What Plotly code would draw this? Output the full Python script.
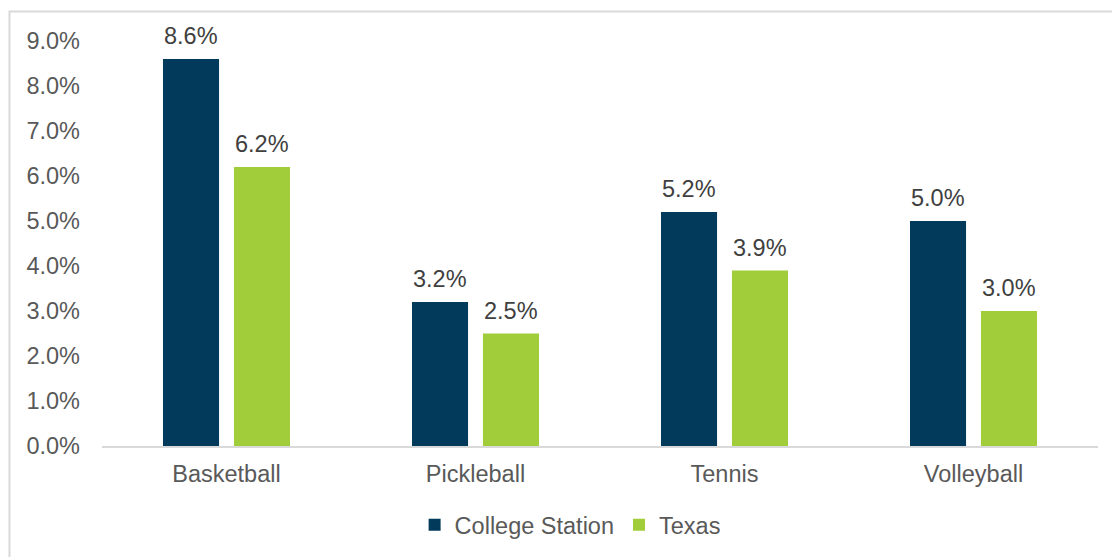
import plotly.graph_objects as go

categories = ["Basketball", "Pickleball", "Tennis", "Volleyball"]
college_station = [8.6, 3.2, 5.2, 5.0]
texas = [6.2, 2.5, 3.9, 3.0]
y_ticks = [0, 1, 2, 3, 4, 5, 6, 7, 8, 9]
y_tick_labels = [f"{v:.1f}%" for v in y_ticks]

NAVY = "#023A5B"
GREEN = "#A2CD3A"
TEXT = "#595959"
LABEL = "#404040"
FONT = "Liberation Sans, Arial, sans-serif"
FS = 23.5

fig = go.Figure()
fig.add_trace(go.Bar(
    name="College Station", x=categories, y=college_station,
    marker=dict(color=NAVY, line=dict(width=0)),
))
fig.add_trace(go.Bar(
    name="Texas", x=categories, y=texas,
    marker=dict(color=GREEN, line=dict(width=0)),
))

annotations = []
for series, shift in ((college_station, -35.5), (texas, 35.5)):
    for cat, val in zip(categories, series):
        annotations.append(dict(
            x=cat, y=val, xref="x", yref="y", text=f"{val:.1f}%",
            showarrow=False, xshift=shift, yshift=23, yanchor="middle",
            font=dict(size=FS, color=LABEL, family=FONT),
        ))

fig.update_layout(
    width=1112, height=557,
    margin=dict(l=102, r=14, t=41, b=111, autoexpand=False),
    paper_bgcolor="white", plot_bgcolor="white",
    barmode="group", bargap=0.43, bargroupgap=0.21,
    font=dict(family=FONT, size=FS, color=TEXT),
    showlegend=True,
    legend=dict(orientation="h", x=0.47, xanchor="center",
                yref="container", y=0.097, yanchor="top",
                font=dict(size=FS, color=TEXT), traceorder="normal"),
    xaxis=dict(showline=True, linecolor="#D9D9D9", linewidth=1.5, ticks="",
               tickfont=dict(size=FS, color=TEXT), showgrid=False, automargin=False,
               ticklabelstandoff=6),
    yaxis=dict(range=[0, 9], tickvals=y_ticks, ticktext=y_tick_labels,
               showgrid=False, zeroline=False, showline=False, automargin=False,
               tickfont=dict(size=FS, color=TEXT), ticklabelstandoff=21),
    annotations=annotations,
    shapes=[dict(type="rect", xref="paper", yref="paper",
                 x0=-0.0929, x1=1.5, y0=-0.5, y1=1.0728,
                 line=dict(color="#D9D9D9", width=2), fillcolor="rgba(0,0,0,0)",
                 layer="below")],
)

fig.write_html("out.html", config={"displayModeBar": False},
               post_script="document.body.style.margin='0';document.body.style.overflow='hidden';")
